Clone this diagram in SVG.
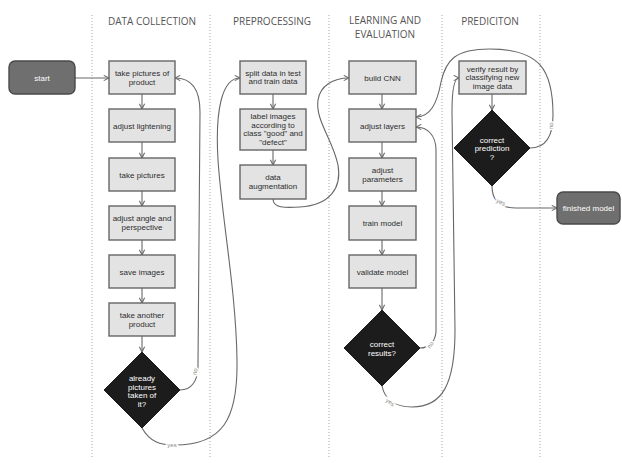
<svg xmlns="http://www.w3.org/2000/svg" width="622" height="463" viewBox="0 0 622 463">
<defs>
<style>
.lane{stroke:#a8a8a8;stroke-width:1;stroke-dasharray:1,2;fill:none}
.hdr{font-family:"Open Sans","Liberation Sans",sans-serif;font-size:10px;fill:#555;text-anchor:middle}
.box{fill:#e3e3e3;stroke:#666;stroke-width:1.4}
.term{fill:#6f6f6f;stroke:#4a4a4a;stroke-width:1.4}
.dia{fill:#1c1c1c;stroke:#1c1c1c}
.t{font-family:"Liberation Sans",Arial,sans-serif;font-size:8px;fill:#2e2e2e;text-anchor:middle}
.w{font-family:"Liberation Sans",Arial,sans-serif;font-size:8px;fill:#fff;text-anchor:middle}
.c{fill:none;stroke:#686868;stroke-width:1.1;marker-end:url(#ah)}
.lbl{font-family:"Liberation Sans",Arial,sans-serif;font-size:6px;fill:#888;text-anchor:middle;stroke:#fff;stroke-width:3;paint-order:stroke}
</style>
<marker id="ah" viewBox="0 0 8 8" refX="7" refY="4" markerWidth="7" markerHeight="7" markerUnits="userSpaceOnUse" orient="auto">
<path d="M1,1 L7,4 L1,7" fill="none" stroke="#686868" stroke-width="1.2"/>
</marker>
</defs>
<rect width="622" height="463" fill="#fff"/>
<g id="lanes">
<line class="lane" x1="92" y1="15" x2="92" y2="457"/>
<line class="lane" x1="210" y1="15" x2="210" y2="457"/>
<line class="lane" x1="329" y1="15" x2="329" y2="457"/>
<line class="lane" x1="442" y1="15" x2="442" y2="457"/>
<line class="lane" x1="540" y1="15" x2="540" y2="457"/>
<text class="hdr" x="152" y="25">DATA COLLECTION</text>
<text class="hdr" x="272" y="25">PREPROCESSING</text>
<text class="hdr" x="385" y="24">LEARNING AND</text>
<text class="hdr" x="385" y="38">EVALUATION</text>
<text class="hdr" x="490" y="25">PREDICITON</text>
</g>
<g id="connectors">
<path class="c" d="M75,78 L109,78"/>
<path class="c" d="M142,94 L142,109"/>
<path class="c" d="M142,142 L142,158"/>
<path class="c" d="M142,191 L142,206"/>
<path class="c" d="M142,240 L142,255"/>
<path class="c" d="M142,288 L142,303"/>
<path class="c" d="M142,336 L142,352"/>
<path class="c" d="M180,390 C192,390 198,380 198,366 L200,112 C200,90 192,78 175,78"/>
<path class="c" d="M142,428 C150,442 160,445 175,445 C222,445 238,420 237,360 C236,290 222,220 218,160 C215,110 222,78 240,78"/>
<path class="c" d="M273,94 L273,109"/>
<path class="c" d="M273,150 L273,165"/>
<path class="c" d="M273,199 C273,208 285,208 300,207 C330,205 342,188 338,165 C333,140 315,120 318,100 C320,86 333,78 349,78"/>
<path class="c" d="M382,94 L382,109"/>
<path class="c" d="M382,142 L382,158"/>
<path class="c" d="M382,191 L382,206"/>
<path class="c" d="M382,240 L382,255"/>
<path class="c" d="M382,288 L382,310"/>
<path class="c" d="M420,348 C429,348 435,342 436,332 L436,150 C436,136 428,127 416,127"/>
<path class="c" d="M382,386 C385,400 395,407 412,407 C442,407 455,385 455,330 L452,112 C452,88 455,78 459,78"/>
<path class="c" d="M492,94 L492,110"/>
<path class="c" d="M530,148 C546,148 553,135 553,115 C553,70 540,49 490,49 C455,49 446,60 441,82 C437,104 430,117 416,117"/>
<path class="c" d="M492,186 C492,200 500,208 516,208 L557,208"/>
<text class="lbl" transform="translate(197,372) rotate(-78)">no</text>
<text class="lbl" x="172" y="447">yes</text>
<text class="lbl" transform="translate(432,346) rotate(-55)">no</text>
<text class="lbl" transform="translate(389,404) rotate(35)">yes</text>
<text class="lbl" transform="translate(553,126) rotate(-85)">no</text>
<text class="lbl" transform="translate(500,204) rotate(25)">yes</text>
</g>
<g id="start"><rect class="term" x="9" y="61" width="66" height="33" rx="6"/><text class="w" x="42" y="81">start</text></g>
<g id="take-pictures-of-product"><rect class="box" x="109" y="61" width="66" height="33"/><text class="t" x="142" y="76">take pictures of</text><text class="t" x="142" y="85">product</text></g>
<g id="adjust-lightening"><rect class="box" x="109" y="109" width="66" height="33"/><text class="t" x="142" y="128.5">adjust lightening</text></g>
<g id="take-pictures"><rect class="box" x="109" y="158" width="66" height="33"/><text class="t" x="142" y="177.5">take pictures</text></g>
<g id="adjust-angle"><rect class="box" x="109" y="206" width="66" height="34"/><text class="t" x="142" y="221">adjust angle and</text><text class="t" x="142" y="230">perspective</text></g>
<g id="save-images"><rect class="box" x="109" y="255" width="66" height="33"/><text class="t" x="142" y="274.5">save images</text></g>
<g id="take-another-product"><rect class="box" x="109" y="303" width="66" height="33"/><text class="t" x="142" y="318">take another</text><text class="t" x="142" y="327">product</text></g>
<g id="already-pictures"><polygon class="dia" points="142,352 180,390 142,428 104,390"/><text class="w" x="142" y="381">already</text><text class="w" x="142" y="389.5">pictures</text><text class="w" x="142" y="398">taken of</text><text class="w" x="142" y="406.5">it?</text></g>
<g id="split-data"><rect class="box" x="240" y="61" width="66" height="33"/><text class="t" x="273" y="75.5">split data in test</text><text class="t" x="273" y="84">and train data</text></g>
<g id="label-images"><rect class="box" x="240" y="109" width="66" height="41"/><text class="t" x="273" y="119">label images</text><text class="t" x="273" y="127.5">according to</text><text class="t" x="273" y="136">class "good" and</text><text class="t" x="273" y="144.5">"defect"</text></g>
<g id="data-augmentation"><rect class="box" x="240" y="165" width="66" height="34"/><text class="t" x="273" y="180">data</text><text class="t" x="273" y="189">augmentation</text></g>
<g id="build-cnn"><rect class="box" x="349" y="61" width="67" height="33"/><text class="t" x="382.5" y="80.5">build CNN</text></g>
<g id="adjust-layers"><rect class="box" x="349" y="109" width="67" height="33"/><text class="t" x="382.5" y="128.5">adjust layers</text></g>
<g id="adjust-parameters"><rect class="box" x="349" y="158" width="67" height="33"/><text class="t" x="382.5" y="173">adjust</text><text class="t" x="382.5" y="182">parameters</text></g>
<g id="train-model"><rect class="box" x="349" y="206" width="67" height="34"/><text class="t" x="382.5" y="225.5">train model</text></g>
<g id="validate-model"><rect class="box" x="349" y="255" width="67" height="33"/><text class="t" x="382.5" y="274.5">validate model</text></g>
<g id="correct-results"><polygon class="dia" points="382,310 420,348 382,386 344,348"/><text class="w" x="382" y="346.5">correct</text><text class="w" x="382" y="355.5">results?</text></g>
<g id="verify-result"><rect class="box" x="459" y="61" width="67" height="33"/><text class="t" x="492.5" y="71.5">verify result by</text><text class="t" x="492.5" y="80">classifying new</text><text class="t" x="492.5" y="88.5">image data</text></g>
<g id="correct-prediction"><polygon class="dia" points="492,110 530,148 492,186 454,148"/><text class="w" x="492" y="142.5">correct</text><text class="w" x="492" y="151">prediction</text><text class="w" x="492" y="159.5">?</text></g>
<g id="finished-model"><rect class="term" x="557" y="192" width="63" height="32" rx="6"/><text class="w" x="588.5" y="211">finished model</text></g>
</svg>
